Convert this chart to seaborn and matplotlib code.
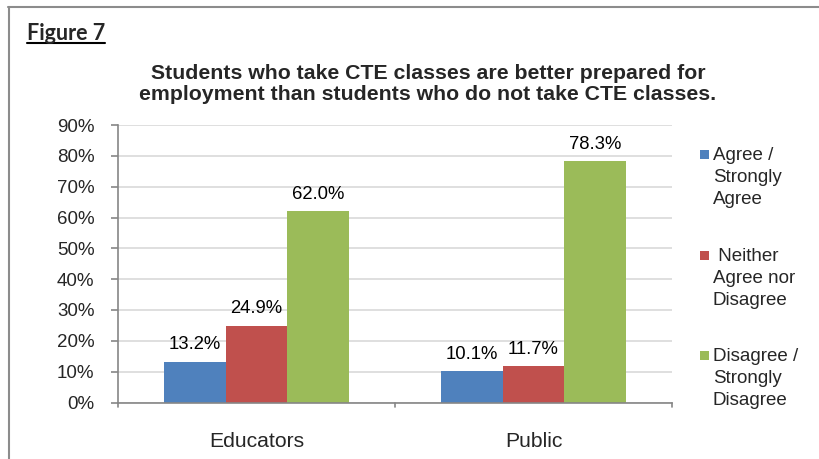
import matplotlib
matplotlib.use("Agg")
import matplotlib.pyplot as plt
import seaborn as sns
import pandas as pd
from matplotlib.lines import Line2D
from matplotlib.patches import Rectangle

# Survey responses (percent of respondents)
groups = ["Educators", "Public"]
responses = ["Agree /\nStrongly\nAgree", " Neither\nAgree nor\nDisagree", "Disagree /\nStrongly\nDisagree"]
agree = [13.2, 10.1]
neither = [24.9, 11.7]
disagree = [62.0, 78.3]
y_ticks = [0, 10, 20, 30, 40, 50, 60, 70, 80, 90]
colors = ["#4F81BD", "#C0504D", "#9BBB59"]

df = pd.DataFrame({
    "group": groups * 3,
    "response": [responses[0]] * 2 + [responses[1]] * 2 + [responses[2]] * 2,
    "value": agree + neither + disagree,
})

sns.set_style("white")
plt.rcParams["font.family"] = ["Liberation Sans", "DejaVu Sans"]

fig = plt.figure(figsize=(8.2, 4.59), dpi=100)
ax = fig.add_axes([118 / 820, 1 - 402.5 / 459, (672 - 118) / 820, (402.5 - 125) / 459])

sns.barplot(data=df, x="group", y="value", hue="response", order=groups,
            hue_order=responses, palette=colors, width=0.67, saturation=1,
            edgecolor="none", linewidth=0, ax=ax, legend=False)

for container in ax.containers:
    ax.bar_label(container, labels=[f"{v:.1f}%" for v in container.datavalues],
                 padding=6, fontsize=13.3, color="#000000")

ax.set_xlim(-0.5, 1.5)
ax.set_ylim(0, 90)
ax.set_yticks(y_ticks)
ax.set_yticklabels([f"{t}%" for t in y_ticks], fontsize=13.5)
ax.set_xticks([0, 1])
ax.set_xticklabels(groups, fontsize=15.2)
ax.tick_params(axis="x", length=0, pad=21)
ax.tick_params(axis="y", length=5, width=1.2, color="#868686", pad=12, left=True)
ax.set_xlabel("")
ax.set_ylabel("")
ax.yaxis.grid(True, color="#d9d9d9", linewidth=1.2)
ax.set_axisbelow(True)
for side in ["top", "right"]:
    ax.spines[side].set_visible(False)
for side in ["left", "bottom"]:
    ax.spines[side].set_color("#868686")
    ax.spines[side].set_linewidth(1.2)

# category boundary ticks on the x axis
for xb in [-0.5, 0.5, 1.5]:
    ax.plot([xb, xb], [0, -1.6], color="#868686", linewidth=1.2, clip_on=False,
            transform=ax.transData)

# Title
fig.text(428 / 820, 1 - 84 / 459,
         "Students who take CTE classes are better prepared for\n"
         "employment than students who do not take CTE classes.",
         ha="center", va="center", fontsize=15.3, fontweight="bold",
         linespacing=1.15)

# Figure caption with underline
fig.text(27 / 820, 1 - 39.5 / 459, "Figure 7", fontsize=15.5, fontweight="bold",
         family=["Lato", "DejaVu Sans"], ha="left", va="baseline")
fig.add_artist(Line2D([27 / 820, 105 / 820], [1 - 43 / 459, 1 - 43 / 459],
                      color="black", linewidth=1.5))

# Outer frame (top and left edges)
fig.add_artist(Line2D([8 / 820, 1], [1 - 6.5 / 459, 1 - 6.5 / 459], color="#8c8c8c", linewidth=1.5))
fig.add_artist(Line2D([8.5 / 820, 8.5 / 820], [0, 1 - 6.5 / 459], color="#8c8c8c", linewidth=1.5))

# Legend: swatch beside the first line of each label
legend_tops = [147, 248, 348]
for lab, col, top in zip(responses, colors, legend_tops):
    fig.add_artist(Rectangle((700 / 820, 1 - (top + 12) / 459), 9 / 820, 9 / 459,
                             transform=fig.transFigure, facecolor=col, edgecolor="none"))
    fig.text(713 / 820, 1 - top / 459, lab, ha="left", va="top", fontsize=13.5,
             linespacing=1.4)

fig.savefig("out.png", dpi=100)
